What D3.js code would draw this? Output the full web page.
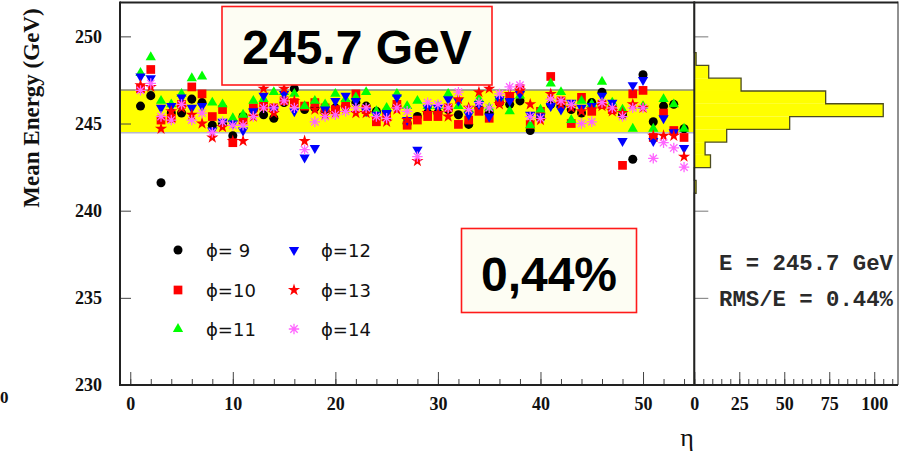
<!DOCTYPE html>
<html>
<head>
<meta charset="utf-8">
<script src="https://cdn.jsdelivr.net/npm/d3@7"></script>
<style>
html, body { margin: 0; padding: 0; background: #fff; overflow: hidden; }
svg { display: block; }
</style>
</head>
<body>
<svg id="chart" width="900" height="458"></svg>
<script>
// eta bins scanned
const etaValues = d3.range(1, 55);

// mean energy (GeV) per eta, one array per phi row
const phi9  = [246.0,246.6,241.6,245.6,245.6,246.4,246.2,244.9,245.0,244.3,245.4,245.8,245.5,245.3,246.2,247.0,245.8,245.9,245.7,245.9,246.0,246.2,246.0,245.7,245.7,246.0,245.0,245.4,245.6,245.6,245.8,245.5,244.95,245.9,245.6,246.2,246.1,246.3,244.6,245.3,246.1,246.0,245.8,245.6,246.2,246.8,245.9,245.5,242.95,247.8,245.1,246.0,246.1,244.7];
const phi10 = [247.0,248.1,245.2,245.3,246.1,247.1,246.7,245.4,245.8,243.9,245.2,245.9,246.0,245.9,246.3,246.2,246.0,246.2,245.9,245.8,246.1,246.7,245.8,245.1,245.4,246.1,244.9,245.2,245.4,245.4,245.9,244.95,245.2,245.7,245.3,246.3,246.5,247.0,244.95,245.7,247.7,246.3,245.0,246.5,245.7,246.1,245.8,242.6,246.7,246.9,244.2,245.6,244.6,244.2];
const phi11 = [247.9,248.8,246.3,246.1,246.7,247.6,247.7,246.2,246.1,245.3,245.5,246.3,246.4,246.8,246.8,246.7,246.0,246.3,246.1,246.7,246.4,246.5,246.8,245.7,245.9,246.7,246.0,246.3,246.0,246.0,246.7,246.0,245.8,246.4,245.9,246.5,245.7,246.6,244.9,245.8,247.3,246.8,245.2,246.3,246.1,247.4,246.2,245.8,244.7,246.0,244.7,246.4,246.1,244.7];
const phi12 = [247.7,247.6,245.9,246.0,246.5,245.9,246.0,244.6,245.1,245.0,244.6,245.7,246.6,245.8,246.7,245.7,243.05,243.6,245.8,246.3,246.6,246.3,245.7,245.5,245.6,246.5,245.2,243.5,245.9,245.9,246.4,246.3,245.5,246.1,245.4,246.4,246.3,246.7,245.5,245.4,246.0,245.8,246.2,245.9,246.0,246.6,246.2,244.0,247.2,247.5,244.0,245.3,244.5,243.6];
const phi13 = [247.2,247.1,244.7,245.7,245.9,245.5,245.0,244.2,244.8,244.0,244.0,245.4,247.0,245.6,247.0,246.3,244.0,245.8,245.5,245.6,245.9,245.6,245.6,245.3,245.1,245.8,245.2,242.85,245.6,245.6,245.4,246.4,245.9,246.8,247.0,246.1,246.7,246.9,246.1,245.2,246.7,246.1,245.9,245.7,245.8,246.0,245.7,245.6,246.1,245.9,244.3,244.3,244.3,243.1];
const phi14 = [246.9,247.3,245.4,245.2,246.1,245.2,245.6,244.5,245.1,244.9,244.9,245.4,245.9,245.9,246.3,245.9,243.5,245.1,245.4,245.5,245.7,245.9,245.9,245.4,245.3,245.9,245.7,243.1,246.2,246.1,245.9,246.8,245.8,246.2,245.9,246.7,247.1,247.2,245.4,245.3,246.4,246.3,246.1,245.0,245.1,246.2,245.9,245.4,245.9,245.9,243.0,243.9,243.6,242.5];

// legend labels
const phiLabels = ["\u03D5= 9", "\u03D5=10", "\u03D5=11", "\u03D5=12", "\u03D5=13", "\u03D5=14"];

// projected distribution of all points: 30 bins over 230..252 GeV
const histLow = 230, histHigh = 252;
const histCounts = [0,0,0,0,0,0,0,0,0,0,0,0,0,0,0,1,0,9,6,18,53,105,73,26,8,1,0,0,0,0];

// summary numbers
const meanEnergy = 245.7;
const rmsPercent = 0.44;
const bandLow = 244.47, bandHigh = 246.93;

// axis ticks
const yTicks = [230, 235, 240, 245, 250];
const xTicks = [0, 10, 20, 30, 40, 50];
const xMinorTicks = d3.range(0, 55, 2);
const histTicks = [0, 25, 50, 75, 100];
const histMinorTicks = d3.range(0, 113, 5);

// ---------------------------------------------------------------
const svg = d3.select("#chart");

const frameL = 120, frameMid = 694.3, frameR = 898, frameT = 1.5, frameB = 385;

const x = d3.scaleLinear().domain([-1, 55]).range([frameL, frameMid]);
const y = d3.scaleLinear().domain([230, 252]).range([frameB, frameT]);
const hx = d3.scaleLinear().domain([0, 113.2]).range([frameMid, frameR]);

const serif = "'Liberation Serif', 'Times New Roman', serif";

// band around the mean
svg.append("rect")
  .attr("x", frameL).attr("width", frameMid - frameL)
  .attr("y", y(bandHigh)).attr("height", y(bandLow) - y(bandHigh))
  .attr("fill", "#ffff00");
svg.append("line")
  .attr("x1", frameL).attr("x2", frameMid)
  .attr("y1", y(bandHigh)).attr("y2", y(bandHigh))
  .attr("stroke", "#8a8a80").attr("stroke-width", 1.5);
svg.append("line")
  .attr("x1", frameL).attr("x2", frameMid)
  .attr("y1", y(bandLow)).attr("y2", y(bandLow))
  .attr("stroke", "#b8b8cc").attr("stroke-width", 1.5);

// axes (ticks pointing into the frame)
function styleAxis(g) {
  g.select(".domain").remove();
  g.selectAll(".tick line").attr("stroke", "#444").attr("stroke-width", 1);
  g.selectAll("text")
    .attr("font-family", serif).attr("font-weight", "bold")
    .attr("font-size", 18).attr("fill", "#111");
}

svg.append("g").attr("transform", `translate(0,${frameB})`)
  .call(d3.axisBottom(x).tickValues(xMinorTicks).tickSize(-6).tickFormat(""))
  .call(styleAxis);
svg.append("g").attr("transform", `translate(0,${frameB})`)
  .call(d3.axisBottom(x).tickValues(xTicks).tickSize(-13).tickPadding(12).tickFormat(d3.format("d")))
  .call(styleAxis);

svg.append("g").attr("transform", `translate(${frameL},0)`)
  .call(d3.axisLeft(y).tickValues(yTicks).tickSize(-11).tickPadding(18).tickFormat(d3.format("d")))
  .call(styleAxis);

// histogram panel ticks
svg.append("g").attr("transform", `translate(${frameMid},0)`)
  .call(d3.axisLeft(y).tickValues([235, 240, 245, 250]).tickSize(-14).tickFormat(""))
  .call(g => { g.select(".domain").remove(); g.selectAll(".tick line").attr("stroke", "#777"); });
svg.append("g").attr("transform", `translate(0,${frameB})`)
  .call(d3.axisBottom(hx).tickValues(histMinorTicks).tickSize(-6).tickFormat(""))
  .call(styleAxis);
svg.append("g").attr("transform", `translate(0,${frameB})`)
  .call(d3.axisBottom(hx).tickValues(histTicks).tickSize(-13).tickPadding(12).tickFormat(d3.format("d")))
  .call(styleAxis);

// histogram
const binW = (histHigh - histLow) / histCounts.length;
const bins = histCounts.map((c, i) => ({ lo: histLow + i * binW, hi: histLow + (i + 1) * binW, c }));
svg.append("g").selectAll("rect").data(bins.filter(b => b.c > 0)).join("rect")
  .attr("x", hx(0)).attr("width", d => hx(d.c) - hx(0))
  .attr("y", d => y(d.hi)).attr("height", d => y(d.lo) - y(d.hi))
  .attr("fill", "#ffff00");
const stepPts = [];
bins.forEach(b => { stepPts.push([hx(b.c), y(b.lo)]); stepPts.push([hx(b.c), y(b.hi)]); });
svg.append("path")
  .attr("d", d3.line()(stepPts))
  .attr("fill", "none").attr("stroke", "#4d4d22").attr("stroke-width", 1.3);

// marker shapes
const sym = (type, size, rot) => ({ path: d3.symbol().type(type).size(size)(), rot: rot || 0 });
function asterisk(r) {
  let d = "";
  for (let k = 0; k < 4; k++) {
    const a = k * Math.PI / 4;
    d += `M${-r * Math.cos(a)},${-r * Math.sin(a)}L${r * Math.cos(a)},${r * Math.sin(a)}`;
  }
  return d;
}
const seriesStyle = [
  { data: phi9,  color: "#000000", shape: sym(d3.symbolCircle, 64) },
  { data: phi10, color: "#ff0000", shape: sym(d3.symbolSquare, 76) },
  { data: phi11, color: "#00ff00", shape: sym(d3.symbolTriangle, 46) },
  { data: phi12, color: "#0000ff", shape: sym(d3.symbolTriangle, 46, 180) },
  { data: phi13, color: "#ff0000", shape: sym(d3.symbolStar, 46) },
  { data: phi14, color: "#ff66ff", shape: { path: asterisk(5.2), rot: 0 }, stroke: true }
];

function drawMarker(sel, s) {
  sel.append("path")
    .attr("d", s.shape.path)
    .attr("fill", s.stroke ? "none" : s.color)
    .attr("stroke", s.stroke ? s.color : "none")
    .attr("stroke-width", s.stroke ? 1.3 : 0);
}

seriesStyle.forEach(s => {
  svg.append("g").selectAll("g").data(s.data).join("g")
    .attr("transform", (d, i) => `translate(${x(etaValues[i])},${y(d)}) rotate(${s.shape.rot})`)
    .each(function () { drawMarker(d3.select(this), s); });
});

// frame
const frame = svg.append("g").attr("stroke", "#222").attr("fill", "none");
frame.append("line").attr("x1", frameL).attr("x2", frameL).attr("y1", frameT).attr("y2", frameB).attr("stroke-width", 2);
frame.append("line").attr("x1", frameL - 1).attr("x2", frameR).attr("y1", frameB).attr("y2", frameB).attr("stroke-width", 2);
frame.append("line").attr("x1", frameL).attr("x2", frameR).attr("y1", frameT + 1).attr("y2", frameT + 1).attr("stroke-width", 2);
frame.append("line").attr("x1", frameMid).attr("x2", frameMid).attr("y1", frameT).attr("y2", frameB).attr("stroke-width", 2);
frame.append("line").attr("x1", frameR).attr("x2", frameR).attr("y1", frameT).attr("y2", frameB).attr("stroke-width", 1);

// legend
const legendRows = [250, 290, 329];
const legendCols = [{ mx: 178, tx: 206 }, { mx: 294, tx: 321 }];
seriesStyle.forEach((s, i) => {
  const col = legendCols[Math.floor(i / 3)], row = legendRows[i % 3];
  const g = svg.append("g").attr("transform", `translate(${col.mx},${row}) rotate(${s.shape.rot})`);
  drawMarker(g, s);
  svg.append("text").attr("x", col.tx).attr("y", row + 6.5)
    .attr("font-family", "'DejaVu Sans', sans-serif").attr("font-size", 18)
    .attr("fill", "#111").text(phiLabels[i]);
});

// annotation boxes
function noteBox(x0, y0, w, h, label, cx, by) {
  svg.append("rect").attr("x", x0).attr("y", y0).attr("width", w).attr("height", h)
    .attr("fill", "#fdfdf3").attr("stroke", "#ff1a1a").attr("stroke-width", 1.6);
  svg.append("text").attr("x", cx).attr("y", by).attr("text-anchor", "middle")
    .attr("font-family", "'Liberation Sans', Arial, sans-serif").attr("font-weight", "bold")
    .attr("font-size", 48).attr("fill", "#000").text(label);
}
noteBox(222, 6.5, 270, 78.5, `${meanEnergy} GeV`, 357, 64);
noteBox(461.5, 228.5, 175, 84, `${rmsPercent.toFixed(2).replace(".", ",")}%`, 549, 291);

// statistics text
const mono = "'Liberation Mono', 'Courier New', monospace";
svg.append("text").attr("x", 719).attr("y", 270)
  .attr("font-family", mono).attr("font-size", 22.3).attr("fill", "#2a2a2a")
  .attr("font-weight", "bold").text(`E = ${meanEnergy} GeV`);
svg.append("text").attr("x", 719).attr("y", 306)
  .attr("font-family", mono).attr("font-size", 22.3).attr("fill", "#2a2a2a")
  .attr("font-weight", "bold").text(`RMS/E = ${rmsPercent.toFixed(2)}%`);

// axis titles
svg.append("text")
  .attr("transform", "translate(39,108) rotate(-90)")
  .attr("text-anchor", "middle")
  .attr("font-family", serif).attr("font-weight", "bold").attr("font-size", 23)
  .attr("fill", "#111").text("Mean Energy (GeV)");
svg.append("text").attr("x", 687).attr("y", 446).attr("text-anchor", "middle")
  .attr("font-family", serif).attr("font-size", 26).attr("fill", "#111").text("\u03B7");

// stray label at the far left edge
svg.append("text").attr("x", 0).attr("y", 403).attr("text-anchor", "start")
  .attr("font-family", serif).attr("font-weight", "bold").attr("font-size", 17)
  .attr("fill", "#111").text("0");
</script>
</body>
</html>
